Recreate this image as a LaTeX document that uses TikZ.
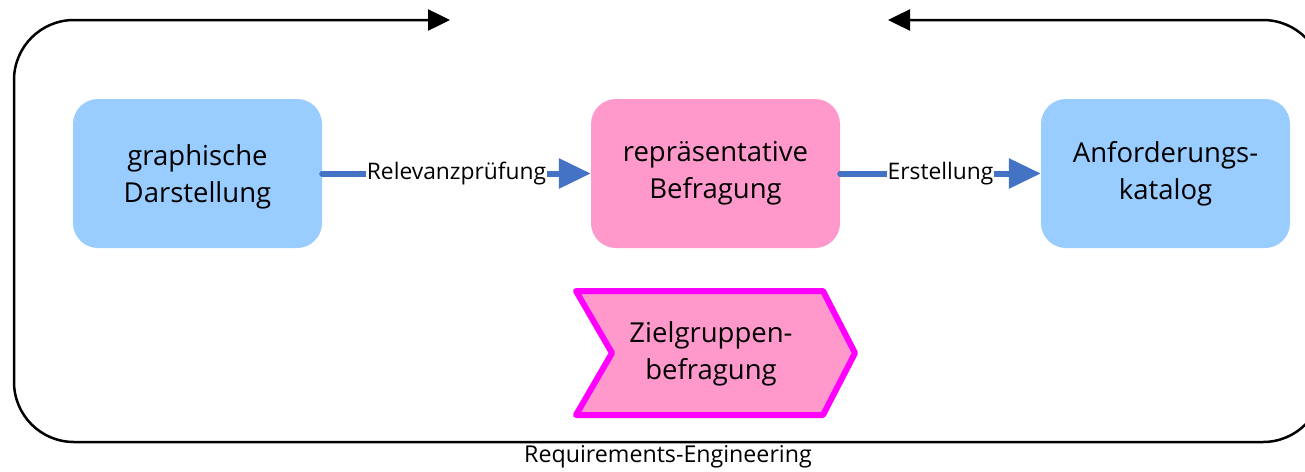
\documentclass[tikz,border=0pt]{standalone}
\usepackage{fontspec}
\setmainfont{Open Sans}
\usetikzlibrary{arrows.meta}
\definecolor{boxblue}{HTML}{99CCFF}
\definecolor{boxpink}{HTML}{FF99CC}
\definecolor{connblue}{HTML}{4472C4}
\definecolor{chevmag}{HTML}{FF00FF}
\tikzset{
  procbox/.style={rounded corners=25pt, minimum width=249pt, minimum height=149pt,
    align=center, font=\fontsize{27.5}{37}\selectfont, inner sep=0pt},
  conn/.style={draw=connblue, line width=6pt, line cap=round,
    -{Triangle[length=32pt,width=29pt]}},
  connlabel/.style={fill=white, inner sep=1pt, font=\fontsize{22.8}{26}\selectfont, text=black},
  frame/.style={line width=2.5pt, rounded corners=60pt,
    {Triangle[length=22pt,width=21pt]}-{Triangle[length=22pt,width=21pt]}},
}
\begin{document}
\begin{tikzpicture}[x=1pt,y=-1pt]
\useasboundingbox (0,0) rectangle (1305,471);
% frame
\coordinate (fs) at (888,20);
\coordinate (fe) at (450,20);
\draw[frame] (fs) -- (1323,20) -- (1323,442) -- (14,442) -- (14,20) -- (fe);
\node[font=\fontsize{23.2}{26}\selectfont, inner sep=0pt] (re) at (668,457) {Requirements-Engineering};
% boxes
\node[procbox, fill=boxblue, text depth=0pt] (g) at (197.5,173.5) {graphische\\Darstellung};
\node[procbox, fill=boxpink] (r) at (715.5,173.5) {repräsentative\\Befragung};
\node[procbox, fill=boxblue] (a) at (1165.5,173.5) {Anforderungs-\\katalog};
% connectors
\draw[conn] (g.east) -- node[connlabel] {Relevanzprüfung} (r.west);
\draw[conn] (r.east) -- node[connlabel] {Erstellung} (a.west);
% chevron
\draw[draw=chevmag, fill=boxpink, line width=6pt, line join=round]
  (576,291) -- (823,291) -- (855,353) -- (823,415) -- (576,415) -- (612,353) -- cycle;
\node[align=center, font=\fontsize{27.5}{37}\selectfont, inner sep=0pt] (z) at (711,354) {Zielgruppen-\\befragung};
\end{tikzpicture}
\end{document}
